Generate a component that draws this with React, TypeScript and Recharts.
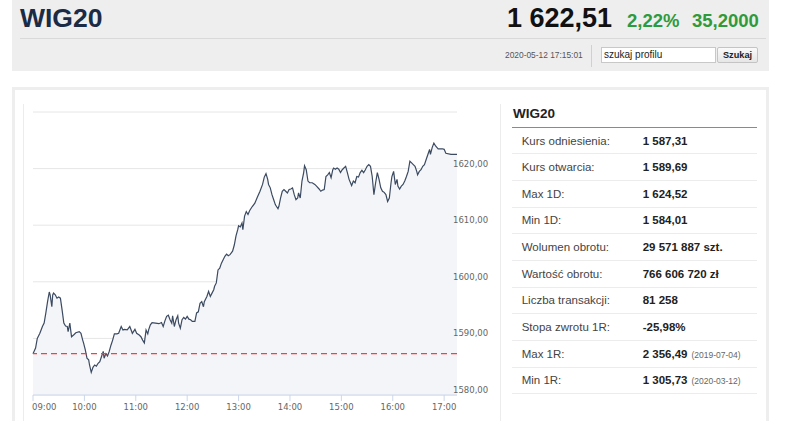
import { ComposedChart, Area, XAxis, YAxis, CartesianGrid, ReferenceLine } from 'recharts';

const times = [
  '09:00', '09:03', '09:05', '09:08', '09:11', '09:13', '09:15', '09:17', '09:19', '09:20',
  '09:22', '09:23', '09:24', '09:26', '09:28', '09:30', '09:32', '09:34', '09:36', '09:38',
  '09:40', '09:41', '09:43', '09:45', '09:48', '09:50', '09:54', '09:56', '09:58', '09:59',
  '10:01', '10:03', '10:05', '10:06', '10:08', '10:10', '10:12', '10:14', '10:16', '10:18',
  '10:20', '10:22', '10:23', '10:25', '10:27', '10:29', '10:31', '10:33', '10:35', '10:38',
  '10:40', '10:43', '10:45', '10:47', '10:50', '10:53', '10:56', '10:59', '11:01', '11:04',
  '11:06', '11:08', '11:10', '11:12', '11:14', '11:15', '11:17', '11:19', '11:23', '11:27',
  '11:30', '11:32', '11:34', '11:36', '11:38', '11:40', '11:42', '11:43', '11:45', '11:47',
  '11:49', '11:50', '11:52', '11:54', '11:56', '11:58', '12:00', '12:02', '12:04', '12:06',
  '12:09', '12:11', '12:13', '12:15', '12:17', '12:19', '12:20', '12:23', '12:25', '12:27',
  '12:29', '12:31', '12:32', '12:34', '12:36', '12:38', '12:40', '12:42', '12:44', '12:46',
  '12:48', '12:50', '12:53', '12:55', '12:57', '12:59', '13:00', '13:02', '13:04', '13:05',
  '13:07', '13:09', '13:11', '13:13', '13:16', '13:19', '13:22', '13:25', '13:28', '13:30',
  '13:32', '13:34', '13:35', '13:37', '13:39', '13:41', '13:43', '13:46', '13:47', '13:49',
  '13:51', '13:53', '13:55', '13:57', '13:59', '14:01', '14:03', '14:05', '14:07', '14:09',
  '14:10', '14:12', '14:14', '14:16', '14:17', '14:19', '14:21', '14:23', '14:26', '14:29',
  '14:31', '14:34', '14:36', '14:38', '14:40', '14:42', '14:44', '14:46', '14:48', '14:50',
  '14:51', '14:53', '14:55', '14:57', '14:59', '15:01', '15:03', '15:05', '15:07', '15:09',
  '15:12', '15:14', '15:16', '15:18', '15:20', '15:22', '15:24', '15:26', '15:28', '15:30',
  '15:32', '15:34', '15:36', '15:38', '15:40', '15:42', '15:44', '15:46', '15:48', '15:50',
  '15:52', '15:54', '15:56', '15:58', '15:59', '16:01', '16:03', '16:05', '16:06', '16:08',
  '16:10', '16:12', '16:14', '16:16', '16:18', '16:20', '16:22', '16:24', '16:26', '16:28',
  '16:29', '16:31', '16:33', '16:35', '16:37', '16:39', '16:41', '16:43', '16:44', '16:46',
  '16:48', '16:50', '16:53', '16:58', '17:00', '17:02', '17:08', '17:15',
];

const values = [
  1587.3, 1588.3, 1590.0, 1590.9, 1592.1, 1592.7, 1594.5, 1596.5, 1598.2, 1597.7,
  1595.6, 1597.7, 1598.0, 1597.7, 1597.1, 1597.3, 1597.1, 1595.0, 1592.7, 1592.2,
  1592.1, 1591.2, 1592.7, 1590.3, 1590.7, 1591.0, 1591.2, 1590.9, 1589.7, 1589.2,
  1588.0, 1586.5, 1586.2, 1585.3, 1584.0, 1584.9, 1585.3, 1585.1, 1585.6, 1585.9,
  1586.8, 1587.7, 1586.5, 1587.3, 1586.9, 1587.7, 1588.8, 1589.7, 1590.8, 1590.8,
  1590.9, 1592.1, 1591.5, 1591.6, 1591.5, 1592.1, 1590.9, 1591.6, 1590.9, 1590.6,
  1590.3, 1589.7, 1589.2, 1591.5, 1590.8, 1591.5, 1592.4, 1592.8, 1592.7, 1592.6,
  1592.8, 1592.1, 1593.1, 1593.9, 1594.1, 1593.3, 1592.7, 1594.0, 1592.1, 1593.3,
  1594.0, 1592.7, 1591.8, 1593.3, 1593.7, 1593.4, 1593.9, 1593.4, 1593.3, 1593.0,
  1593.0, 1594.5, 1594.7, 1596.2, 1596.5, 1595.6, 1596.5, 1597.4, 1598.3, 1597.4,
  1598.0, 1598.6, 1599.2, 1599.8, 1602.1, 1602.4, 1603.3, 1603.9, 1604.5, 1604.9,
  1604.6, 1604.8, 1605.4, 1606.5, 1608.1, 1609.2, 1609.9, 1609.7, 1610.4, 1609.2,
  1611.6, 1612.4, 1611.9, 1612.6, 1613.3, 1613.9, 1615.0, 1616.0, 1617.2, 1618.5,
  1619.1, 1618.1, 1617.2, 1616.6, 1615.4, 1614.5, 1613.6, 1612.9, 1613.3, 1614.8,
  1616.0, 1616.3, 1616.0, 1615.7, 1616.3, 1616.4, 1616.6, 1615.4, 1614.5, 1614.8,
  1615.7, 1614.8, 1617.8, 1619.3, 1620.5, 1619.8, 1617.8, 1617.5, 1617.5, 1617.2,
  1616.9, 1616.4, 1616.0, 1616.2, 1616.3, 1618.6, 1618.9, 1619.3, 1618.4, 1619.8,
  1620.1, 1619.9, 1620.1, 1619.9, 1619.3, 1619.8, 1620.1, 1620.4, 1619.3, 1618.1,
  1617.0, 1617.8, 1617.5, 1618.6, 1618.5, 1619.3, 1619.7, 1619.3, 1619.8, 1620.4,
  1620.7, 1620.4, 1618.6, 1615.4, 1617.5, 1619.3, 1618.1, 1616.6, 1616.0, 1615.8,
  1615.4, 1614.2, 1614.8, 1617.5, 1618.6, 1619.5, 1617.2, 1618.1, 1616.9, 1616.4,
  1616.9, 1617.2, 1617.8, 1618.6, 1619.5, 1621.3, 1621.0, 1620.7, 1620.4, 1619.5,
  1618.9, 1619.5, 1619.8, 1620.4, 1620.7, 1621.6, 1622.5, 1623.4, 1622.5, 1623.7,
  1624.5, 1624.0, 1623.5, 1623.5, 1623.4, 1622.7, 1622.5, 1622.5,
];

const hourLabels = ['09:00', '10:00', '11:00', '12:00', '13:00', '14:00', '15:00', '16:00', '17:00'];
const priceTicks = [1580, 1590, 1600, 1610, 1620, 1630];
const refPrice = 1587.31;

const statLabels = [
  'Kurs odniesienia:', 'Kurs otwarcia:', 'Max 1D:', 'Min 1D:', 'Wolumen obrotu:',
  'Wartość obrotu:', 'Liczba transakcji:', 'Stopa zwrotu 1R:', 'Max 1R:', 'Min 1R:',
];
const statValues = [
  '1 587,31', '1 589,69', '1 624,52', '1 584,01', '29 571 887 szt.',
  '766 606 720 zł', '81 258', '-25,98%', '2 356,49', '1 305,73',
];
const statNotes = ['', '', '', '', '', '', '', '', '(2019-07-04)', '(2020-03-12)'];

const toMin = (t: string) => {
  const [h, m] = t.split(':').map(Number);
  return (h - 9) * 60 + m;
};

const data = times.map((t, i) => ({ t: toMin(t), v: values[i] }));
const hourTicks = hourLabels.map(toMin);

const SANS = 'Arial, "Liberation Sans", sans-serif';
const AXIS_FONT = '"DejaVu Sans", Verdana, sans-serif';

function XTick({ x, y, payload, index }: any) {
  const first = index === 0;
  return (
    <text x={first ? x - 1 : x} y={y + 7} textAnchor={first ? 'start' : 'middle'} fill="#666" fontSize={8.5} fontFamily={AXIS_FONT}>
      {hourLabels[hourTicks.indexOf(payload.value)]}
    </text>
  );
}

function YTick({ x, y, payload }: any) {
  if (payload.value === 1630) return null;
  return (
    <text x={x - 4} y={y - 2} textAnchor="start" fill="#666" fontSize={8.5} fontFamily={AXIS_FONT}>
      {payload.value.toFixed(2).replace('.', ',')}
    </text>
  );
}

export default function App() {
  return (
    <div style={{ position: 'absolute', left: 0, top: 0, width: 786, height: 421, overflow: 'hidden', background: '#fff', fontFamily: SANS }}>
      {/* nagłówek */}
      <div style={{ position: 'absolute', left: 12, top: 0, width: 757, height: 71, background: '#eeeeee' }} />
      <div style={{ position: 'absolute', left: 20, top: 38, width: 746, height: 1, background: '#d9d9d9' }} />
      <div style={{ position: 'absolute', left: 20, top: 5, fontSize: 26.5, lineHeight: '26.5px', fontWeight: 700, color: '#1b2a45' }}>WIG20</div>
      <div style={{ position: 'absolute', left: 507, top: 5, fontSize: 27, lineHeight: '27px', fontWeight: 700, color: '#111' }}>1 622,51</div>
      <div style={{ position: 'absolute', left: 627, top: 11.5, fontSize: 18.5, lineHeight: '18.5px', fontWeight: 700, color: '#2f9a3b' }}>2,22%</div>
      <div style={{ position: 'absolute', left: 692, top: 11.5, fontSize: 18.5, lineHeight: '18.5px', fontWeight: 700, color: '#2f9a3b' }}>35,2000</div>
      <div style={{ position: 'absolute', left: 505, top: 51, fontSize: 8.4, lineHeight: '8.4px', color: '#555' }}>2020-05-12 17:15:01</div>
      <div style={{ position: 'absolute', left: 591, top: 45, width: 1, height: 22, background: '#d0d0d0' }} />
      <div style={{ position: 'absolute', left: 601, top: 47, width: 111, height: 14, background: '#fff', border: '1px solid #c8c8c8', fontSize: 10, lineHeight: '14px', paddingLeft: 2, color: '#222', boxSizing: 'content-box' }}>
        szukaj profilu
      </div>
      <div style={{ position: 'absolute', left: 717, top: 47, width: 39, height: 14, background: 'linear-gradient(#fafafa, #e6e6e6)', border: '1px solid #c4c4c4', borderRadius: 2, fontSize: 9.2, lineHeight: '14px', fontWeight: 700, textAlign: 'center', color: '#222' }}>
        Szukaj
      </div>

      {/* karta */}
      <div style={{ position: 'absolute', left: 12, top: 87, width: 757, height: 340, border: '3px solid #eeeeee', boxSizing: 'border-box' }} />
      <div style={{ position: 'absolute', left: 23, top: 104, width: 1, height: 330, background: '#ececec' }} />
      <div style={{ position: 'absolute', left: 500, top: 104, width: 1, height: 330, background: '#ececec' }} />

      <div style={{ position: 'absolute', left: 23, top: 100 }}>
        <ComposedChart width={477} height={321} data={data} margin={{ top: 12, right: 0, bottom: 0, left: 10 }}>
          <CartesianGrid vertical={false} stroke="#e6e6e6" />
          <XAxis
            dataKey="t"
            type="number"
            domain={[0, 495]}
            ticks={hourTicks}
            height={26}
            stroke="#ccd6eb"
            tickSize={6}
            tickMargin={2}
            tick={<XTick />}
            interval={0}
          />
          <YAxis
            orientation="right"
            domain={[1580, 1630]}
            ticks={priceTicks}
            width={43}
            axisLine={false}
            tickLine={false}
            tickSize={0}
            tickMargin={0}
            tick={<YTick />}
            interval={0}
          />
          <Area
            type="linear"
            dataKey="v"
            stroke="#3b4a61"
            strokeWidth={1.2}
            fill="#f4f5f8"
            fillOpacity={1}
            dot={false}
            activeDot={false}
            isAnimationActive={false}
          />
          <ReferenceLine y={refPrice} ifOverflow="visible" stroke="#ff3b3b" strokeDasharray="6 4" strokeWidth={1.2} />
        </ComposedChart>
      </div>

      {/* tabela */}
      <div style={{ position: 'absolute', left: 512, top: 104, width: 245 }}>
        <div style={{ height: 23.7, boxSizing: 'border-box', borderBottom: '1px solid #8a8a8a', fontSize: 13.5, fontWeight: 700, lineHeight: '20px', color: '#222', paddingLeft: 1 }}>
          WIG20
        </div>
        {statLabels.map((label, i) => (
          <div key={label} style={{ height: 26.67, boxSizing: 'border-box', borderBottom: '1px solid #ececec', display: 'flex', alignItems: 'center', fontSize: 11.5 }}>
            <div style={{ width: 130.7, paddingLeft: 9.7, boxSizing: 'border-box', color: '#444' }}>{label}</div>
            <div style={{ fontWeight: 700, color: '#222', whiteSpace: 'nowrap' }}>
              {statValues[i]}
              {statNotes[i] && <span style={{ fontWeight: 400, fontSize: 8.5, color: '#666', marginLeft: 4 }}>{statNotes[i]}</span>}
            </div>
          </div>
        ))}
      </div>
    </div>
  );
}
